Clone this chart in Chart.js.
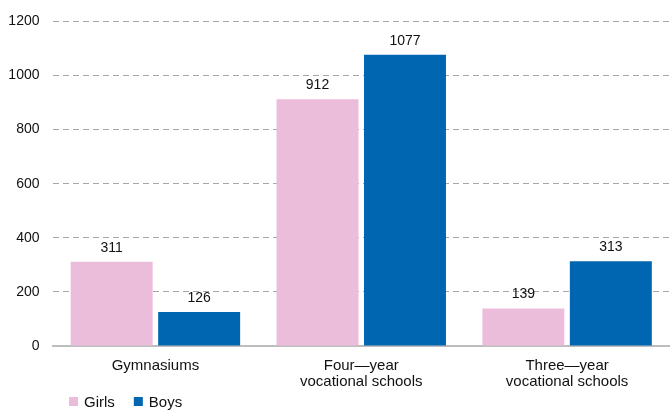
<!DOCTYPE html>
<html><head><meta charset="utf-8">
<script src="https://cdn.jsdelivr.net/npm/chart.js@4"></script>
<style>html,body{margin:0;padding:0;background:#fff}#wrap{width:670px;height:410px}</style>
</head><body><div id="wrap"><canvas id="c" width="670" height="410"></canvas></div>
<script>
const categories = [["Gymnasiums"], ["Four\u2014year", "vocational schools"], ["Three\u2014year", "vocational schools"]];
const seriesNames = ["Girls", "Boys"];
const girls = [311, 912, 139];
const boys = [126, 1077, 313];
const yTicks = [0, 200, 400, 600, 800, 1000, 1200];
const colors = ["#EBBDDB", "#0066B2"];
const FONT = "'Liberation Sans', Arial, sans-serif";

const labelPlugin = {
  id: 'vals',
  afterDatasetsDraw(chart) {
    const ctx = chart.ctx;
    ctx.save();
    ctx.font = "14px " + FONT;
    ctx.fillStyle = "#111";
    ctx.textAlign = "center";
    ctx.textBaseline = "bottom";
    chart.data.datasets.forEach((ds, i) => {
      chart.getDatasetMeta(i).data.forEach((bar, j) => {
        ctx.fillText(String(ds.data[j]), bar.x, bar.y - 7);
      });
    });
    ctx.restore();
  }
};
const legendPlugin = {
  id: 'leg',
  afterDraw(chart) {
    const ctx = chart.ctx;
    ctx.save();
    ctx.font = "15px " + FONT;
    ctx.textBaseline = "middle";
    ctx.textAlign = "left";
    let x = 69; const y = 401.5;
    chart.data.datasets.forEach((ds) => {
      ctx.fillStyle = ds.backgroundColor;
      ctx.fillRect(x, y - 4.5, 9, 9);
      ctx.fillStyle = "#111";
      ctx.fillText(ds.label, x + 15, y + 1);
      x += 15 + ctx.measureText(ds.label).width + 19;
    });
    ctx.restore();
  }
};

new Chart(document.getElementById('c'), {
  type: 'bar',
  data: {
    labels: categories,
    datasets: [
      { label: seriesNames[0], data: girls, backgroundColor: colors[0] },
      { label: seriesNames[1], data: boys, backgroundColor: colors[1] }
    ]
  },
  options: {
    responsive: false,
    animation: false,
    devicePixelRatio: 1,
    layout: { padding: { top: 20, right: 0, bottom: 24, left: 0 } },
    categoryPercentage: 0.85,
    barPercentage: 0.937,
    plugins: { legend: { display: false }, tooltip: { enabled: false } },
    scales: {
      x: {
        grid: { display: false, drawTicks: false },
        border: { display: true, color: "#bdbdbd", width: 2 },
        ticks: { font: { family: FONT, size: 15, lineHeight: 1.12 }, color: "#111", padding: 11, maxRotation: 0, autoSkip: false },
        afterFit(s) { s.height = 40; }
      },
      y: {
        min: 0, max: 1200,
        afterBuildTicks(s) { s.ticks = yTicks.map(v => ({ value: v })); },
        grid: { color: "#a6a6a6", drawTicks: false, lineWidth: 1 },
        border: { display: false, dash: [6, 4] },
        ticks: { font: { family: FONT, size: 14 }, color: "#111", padding: 13, callback: (v) => String(v) },
        afterFit(s) { s.width = 52.5; }
      }
    }
  },
  plugins: [labelPlugin, legendPlugin]
});
</script></body></html>
